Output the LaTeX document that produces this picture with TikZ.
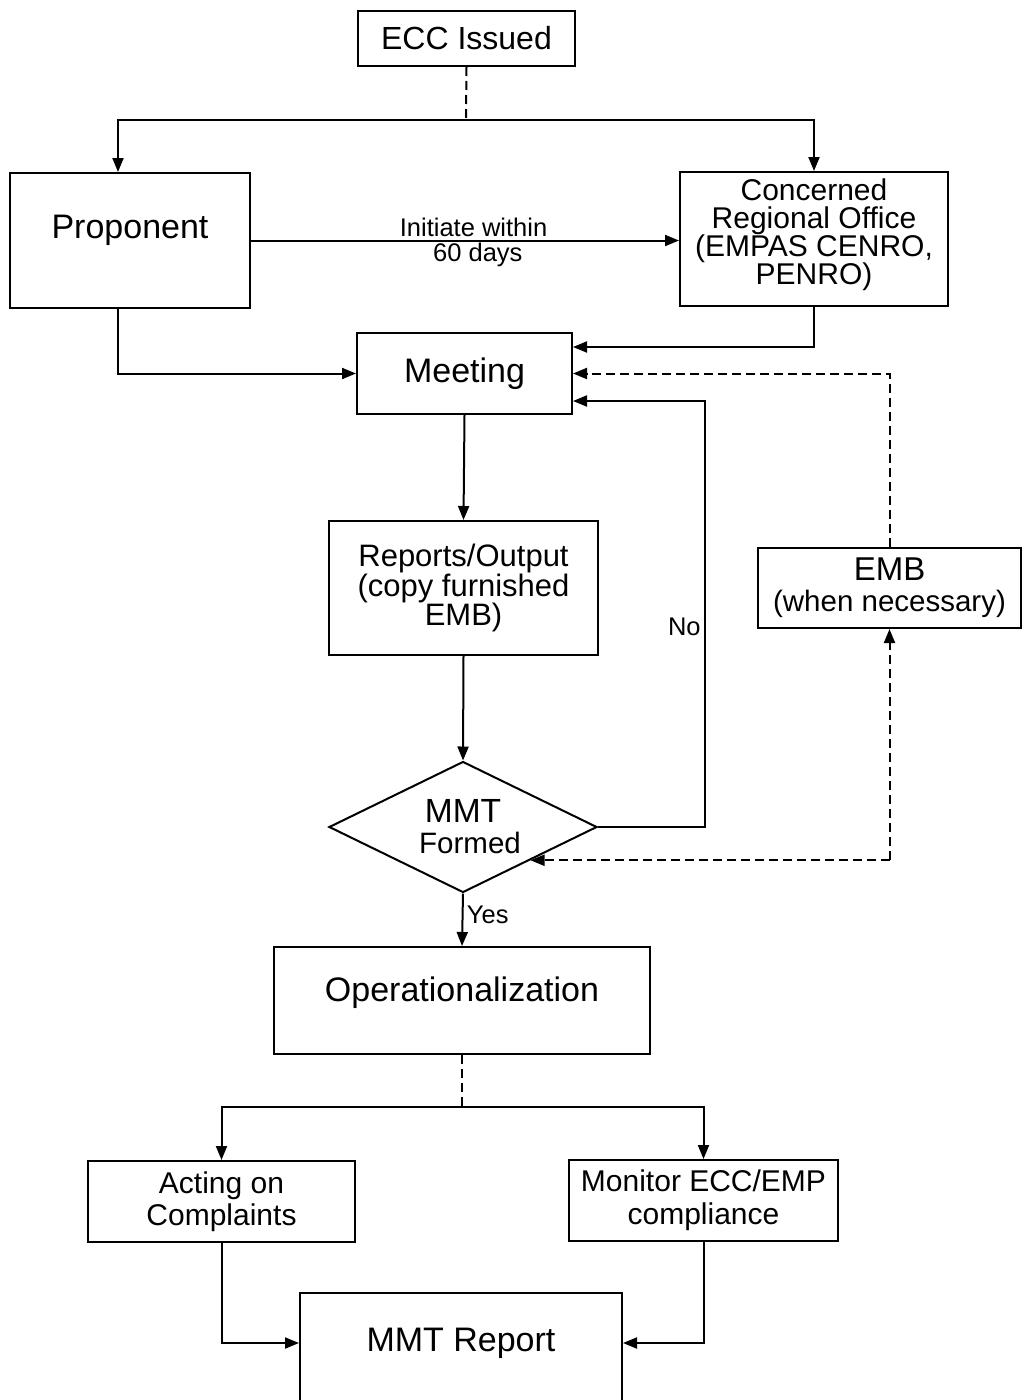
\documentclass[tikz,border=0pt]{standalone}
\usepackage{fontspec}
\setmainfont{Liberation Sans}
\usetikzlibrary{arrows.meta,shapes.geometric}
\newcommand\fsz[2]{\fontsize{#1}{#2}\selectfont}
\begin{document}
\begin{tikzpicture}[x=1pt,y=-1pt,
  box/.style={draw,line width=2pt,rectangle,inner sep=0pt,align=center},
  arr/.style={line width=2pt,-{Triangle[length=14pt,width=11pt]}},
  darr/.style={line width=2pt,dash pattern=on 9pt off 5pt,-{Triangle[length=14pt,width=11pt]}},
  dline/.style={line width=2pt,dash pattern=on 9pt off 5pt},
  big/.style={font=\fsz{34}{36}},
  small/.style={font=\fsz{25.5}{27}}]
\useasboundingbox (0,0) rectangle (1024,1400);
\begin{scope}
\clip (0,0) rectangle (1024,1400);

% boxes
\node[box,minimum width=217pt,minimum height=55pt,font=\fsz{32}{34}] (ecc) at (466.5,38.5) {ECC Issued};
\node[box,minimum width=240pt,minimum height=135pt] (prop) at (130,240.5) {};
\node[big] (propt) at (130,230) {Proponent};
\node[box,minimum width=268pt,minimum height=134pt] (cro) at (814,239) {};
\node[align=center,font=\fsz{30}{28}] (crot) at (814,235)
  {Concerned\\Regional Office\\(EMPAS CENRO,\\PENRO)};
\node[box,big,minimum width=215pt,minimum height=81pt] (meet) at (464.5,373.5) {Meeting};
\node[box,minimum width=269pt,minimum height=134pt,font=\fsz{31}{29.5}] (rep) at (463.5,588)
  {Reports/Output\\(copy furnished\\EMB)};
\node[box,minimum width=263pt,minimum height=80pt,font=\fsz{30}{31}] (emb) at (889.5,588)
  {{\fsz{33}{31}EMB}\\{\fsz{29.5}{31}(when necessary)}};
\node[draw,line width=2pt,diamond,aspect=2,inner sep=0pt,align=center,
  minimum width=268pt,minimum height=131pt,font=\fsz{30}{31}] (mmt) at (463,827)
  {{\fsz{33.5}{31}MMT}\\{\fsz{29.5}{31}\hspace*{14pt}Formed}};
\node[box,minimum width=376pt,minimum height=107pt] (oper) at (462,1000.5) {};
\node[big] (opert) at (462,993) {Operationalization};
\node[box,minimum width=267pt,minimum height=81pt,font=\fsz{30}{32}] (act) at (221.5,1201.5)
  {Acting on\\Complaints};
\node[box,minimum width=269pt,minimum height=81pt,font=\fsz{30}{33}] (mon) at (703.5,1200.5)
  {Monitor ECC/EMP\\compliance};
\node[box,minimum width=322pt,minimum height=200pt] (mmtr) at (461,1393) {};
\node[big] (rept) at (461,1343) {MMT Report};

% from the ECC to both parties
\coordinate (split) at (466,120);
\draw[dline] (ecc.south) -- (split);
\draw[arr] (split) -| ([xshift=-12pt]prop.north);
\draw[arr] (split) -| (cro.north);
\draw[arr] (prop.east) -- node[small,above,pos=0.52,yshift=-1pt]{Initiate within}
  node[small,below,pos=0.53,yshift=2pt]{60 days} (prop.east -| cro.west);

% into the meeting
\draw[arr] ([xshift=-12pt]prop.south) |- (meet.west);
\draw[arr] (cro.south) |- ([yshift=26.5pt]meet.east);
\draw[darr] (emb.north) |- (meet.east);
\coordinate (nocol) at (705,827);
\coordinate (noin) at ([yshift=-27.5pt]meet.east);
\draw[arr] (mmt.east) -- (nocol) -- node[small,left,pos=0.47]{No} (nocol |- noin) -- (noin);

% main line
\draw[arr] (meet.south) -- (rep.north);
\draw[arr] (rep.south) -- (mmt.north);
\draw[arr] (mmt.south) -- node[small,right,pos=0.4]{Yes} (oper.north);

% EMB when necessary
\coordinate (embc) at (emb.south |- mmt.south east);
\draw[darr] (embc) -- (emb.south);
\draw[darr] (embc) -- (mmt.south east);

% operationalization branches
\coordinate (split2) at (462,1107);
\draw[dline] (oper.south) -- (split2);
\draw[arr] (split2) -| (act.north);
\draw[arr] (split2) -| (mon.north);
\draw[arr] (act.south) |- (mmtr.west |- rept);
\draw[arr] (mon.south) |- (mmtr.east |- rept);
\end{scope}
\end{tikzpicture}
\end{document}
